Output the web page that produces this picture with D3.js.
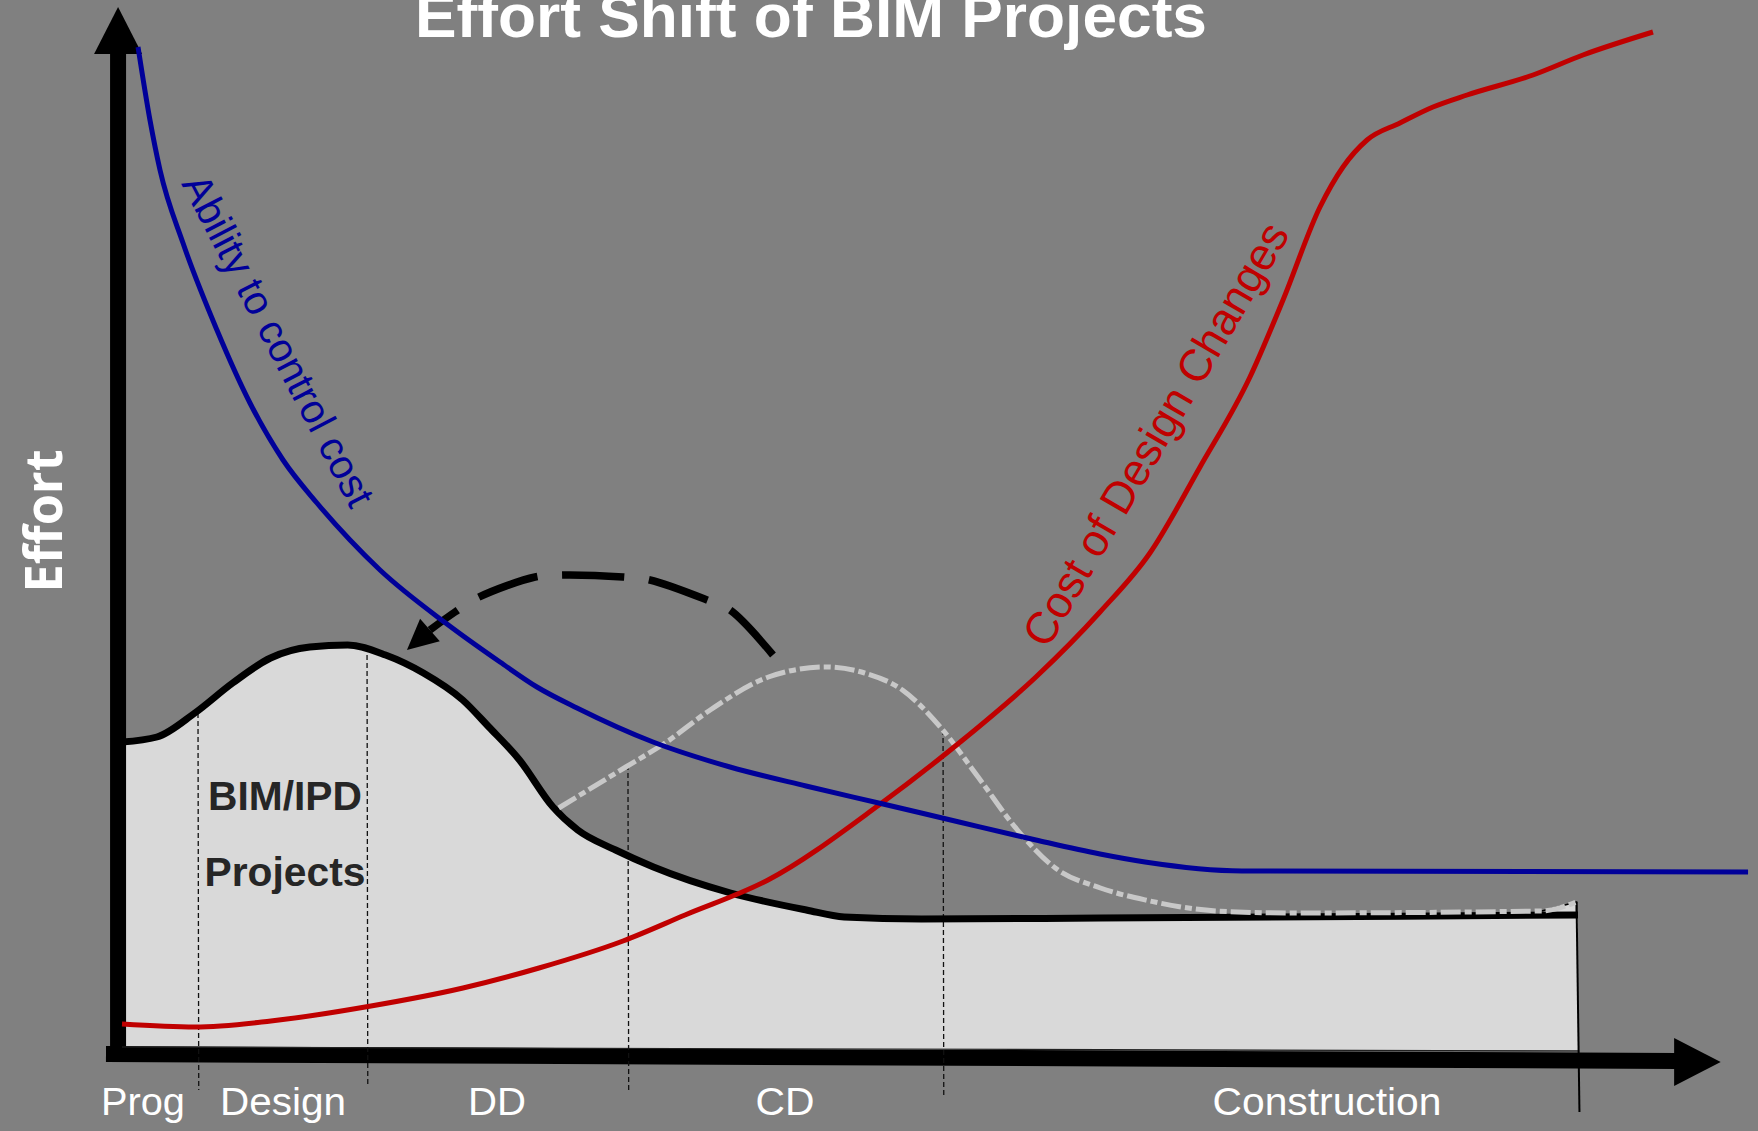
<!DOCTYPE html>
<html><head><meta charset="utf-8">
<script src="https://cdn.jsdelivr.net/npm/d3@7"></script>
<style>html,body{margin:0;padding:0;background:#808080;overflow:hidden}</style>
</head><body>
<svg id="chart" width="1758" height="1131"></svg>
<script>
// ---------- data (x: project time 0-100, y: effort 0-100) ----------
const bimX  = [0, 2.4, 5.0, 7.6, 10.2, 12.9, 15.5, 18.1, 20.7, 23.4, 25.2, 27.3, 29.6, 31.3, 33.9, 36.5, 41.8, 47.0, 49.6, 54.9, 67.2, 100];
const bimY  = [30.8, 31.3, 33.7, 36.7, 39.2, 40.3, 40.5, 39.5, 37.7, 35.0, 32.3, 29.0, 24.3, 22.0, 20.0, 18.3, 15.7, 14.0, 13.3, 13.1, 13.2, 13.5];

const tradX = [30.0, 34.6, 37.3, 40.4, 44.4, 48.3, 51.0, 53.6, 56.2, 58.8, 61.5, 64.1, 67.2, 70.3, 75.2, 80.2, 97.5, 99.9];
const tradY = [24.2, 28.3, 30.7, 34.0, 37.3, 38.3, 37.7, 36.0, 32.3, 27.3, 22.0, 18.2, 16.2, 15.0, 13.9, 13.7, 13.9, 14.8];

const abilX = [1.10, 1.92, 2.61, 4.19, 6.52, 8.79, 11.06, 13.39, 15.66, 17.72, 22.32, 25.96, 28.5, 31.25, 36.47, 41.76, 46.98, 52.27, 57.49, 62.77, 67.17, 70.26, 76.92, 111.68];
const abilY = [100.3, 93.0, 88.0, 80.7, 72.0, 64.7, 59.0, 54.7, 51.0, 48.0, 42.6, 38.8, 36.3, 34.2, 30.8, 28.3, 26.4, 24.6, 22.8, 21.0, 19.6, 18.8, 17.9, 17.8];

const costX = [0, 5.01, 10.23, 17.10, 23.42, 28.64, 34.41, 38.67, 44.37, 51.99, 57.49, 62.77, 67.17, 70.60, 74.04, 77.47, 79.74, 82.28, 83.86, 85.51, 87.77, 90.04, 92.38, 96.91, 100.34, 105.15];
const costY = [2.6, 2.3, 2.9, 4.4, 6.2, 8.2, 10.9, 13.5, 17.0, 24.5, 30.7, 37.3, 43.8, 49.7, 58.3, 67.3, 75.0, 84.3, 88.3, 91.0, 92.7, 94.3, 95.5, 97.5, 99.5, 101.8];

const shiftX = [44.71, 41.76, 40.18, 36.26, 34.41, 30.08, 28.37, 24.38, 22.87, 21.15];
const shiftY = [39.5, 44.0, 45.0, 47.0, 47.3, 47.5, 47.3, 45.2, 43.8, 42.0];
const shiftTip = [19.57, 40.0];

const phaseNames   = ["Prog", "Design", "DD", "CD", "Construction"];
const phaseCenters = [1.44, 11.06, 25.76, 45.54, 82.76];
const dividerX      = [5.22, 16.83, 34.75, 56.39];
const dividerTop    = [33.7, 39.5, 28.5, 32.0];
const dividerBottom = [-4.0, -3.5, -4.2, -4.8];
const endX = 100, endTop = 14.8, endBottom = -6.2;

const titleText = "Effort Shift of BIM Projects";
const yLabel = "Effort";
const bimLabel = ["BIM/IPD", "Projects"];
const abilLabel = "Ability to control cost";
const costLabel = "Cost of Design Changes";

// ---------- scales ----------
const W = 1758, H = 1131;
const x = d3.scaleLinear().domain([0, 100]).range([122, 1578]);
const y = d3.scaleLinear().domain([0, 100]).range([1050, 50]);
const zip = (a, b) => a.map((v, i) => [v, b[i]]);
const smooth = d3.curveMonotoneX;
const line = d3.line().x(d => x(d[0])).y(d => y(d[1])).curve(smooth);
const arc = d3.line().x(d => x(d[0])).y(d => y(d[1])).curve(d3.curveCatmullRom.alpha(0.5));
const straight = d3.line().x(d => x(d[0])).y(d => y(d[1]));

const svg = d3.select("#chart");
svg.append("rect").attr("width", W).attr("height", H).attr("fill", "#808080");

// area under BIM effort
const area = d3.area().x(d => x(d[0])).y0(y(0)).y1(d => y(d[1])).curve(smooth);
svg.append("path").datum(zip(bimX, bimY)).attr("d", area).attr("fill", "#d9d9d9");
const tn = tradX.length;
svg.append("path")
  .datum([[tradX[tn-2], tradY[tn-2]], [tradX[tn-1], tradY[tn-1]], [tradX[tn-1], bimY[bimY.length-1]]])
  .attr("d", straight).attr("fill", "#d9d9d9").attr("stroke", "#000").attr("stroke-width", 1.5);

// ---------- axes ----------
const axisColor = "#000";
const yAxisX = -0.27;
svg.append("path").datum([[yAxisX, -1.2], [yAxisX, 99.8]]).attr("d", straight)
  .attr("stroke", axisColor).attr("stroke-width", 16).attr("fill", "none");
svg.append("polygon")
  .attr("points", [[x(yAxisX), y(104.3)], [x(yAxisX) - 24, y(99.6)], [x(yAxisX) + 24, y(99.6)]].map(p => p.join(",")).join(" "))
  .attr("fill", axisColor);
svg.append("path").datum([[-1.1, -0.4], [106.8, -1.1]]).attr("d", straight)
  .attr("stroke", axisColor).attr("stroke-width", 16).attr("fill", "none");
svg.append("polygon")
  .attr("points", [[x(109.8), y(-1.2)], [x(106.6), y(-1.2) - 24], [x(106.6), y(-1.2) + 24]].map(p => p.join(",")).join(" "))
  .attr("fill", axisColor);

svg.append("path").datum([[0, 0.3], [endX, -0.1]]).attr("d", straight)
  .attr("stroke", "#222").attr("stroke-width", 1.2).attr("fill", "none");
svg.append("path").datum([[endX - 0.1, endTop], [endX + 0.1, endBottom]]).attr("d", straight)
  .attr("stroke", "#000").attr("stroke-width", 2).attr("fill", "none");

// phase dividers
dividerX.forEach((dx, i) => {
  svg.append("path").datum([[dx, dividerTop[i]], [dx + 0.05, dividerBottom[i]]]).attr("d", straight)
    .attr("stroke", "#111").attr("stroke-width", 1.3).attr("stroke-dasharray", "5,3").attr("fill", "none");
});

// ---------- curves ----------
svg.append("path").datum(zip(bimX, bimY)).attr("d", line)
  .attr("fill", "none").attr("stroke", "#000").attr("stroke-width", 7).attr("stroke-linejoin", "round");

svg.append("path").datum(zip(tradX, tradY)).attr("d", line)
  .attr("fill", "none").attr("stroke", "#c8c8c8").attr("stroke-width", 5)
  .attr("stroke-dasharray", "20,4,7,4");

// effort-shift dashed arrow
const shiftPts = zip(shiftX, shiftY);
svg.append("path").datum(shiftPts).attr("d", arc)
  .attr("fill", "none").attr("stroke", "#000").attr("stroke-width", 7.5)
  .attr("stroke-dasharray", "62,25");
{
  const base = shiftPts[shiftPts.length - 1];
  const bx = x(base[0]), by = y(base[1]);
  const tx = x(shiftTip[0]), ty = y(shiftTip[1]);
  const dx = tx - bx, dy = ty - by, len = Math.hypot(dx, dy);
  const px = -dy / len * 15, py = dx / len * 15;
  svg.append("polygon")
    .attr("points", [[tx, ty], [bx + px, by + py], [bx - px, by - py]].map(p => p.join(",")).join(" "))
    .attr("fill", "#000");
}

svg.append("path").datum(zip(costX, costY)).attr("d", line)
  .attr("fill", "none").attr("stroke", "#c00000").attr("stroke-width", 5);

svg.append("path").datum(zip(abilX, abilY)).attr("d", line)
  .attr("fill", "none").attr("stroke", "#000099").attr("stroke-width", 5);

// ---------- text ----------
const font = "'Liberation Sans', Arial, sans-serif";
svg.append("text").text(titleText)
  .attr("x", 811).attr("y", 37).attr("text-anchor", "middle")
  .attr("font-family", font).attr("font-weight", "bold").attr("font-size", 62)
  .attr("fill", "#fff").attr("textLength", 792).attr("lengthAdjust", "spacingAndGlyphs");

svg.append("text").text(yLabel)
  .attr("transform", "translate(62,521) rotate(-90)").attr("text-anchor", "middle")
  .attr("font-family", "'Open Sans', sans-serif").attr("font-weight", "bold").attr("font-size", 52)
  .attr("fill", "#fff").attr("textLength", 143).attr("lengthAdjust", "spacingAndGlyphs");

const labelWidths = [84, 126, 58, 59, 229];
phaseNames.forEach((n, i) => {
  svg.append("text").text(n)
    .attr("x", x(phaseCenters[i])).attr("y", 1115).attr("text-anchor", "middle")
    .attr("font-family", font).attr("font-size", 39).attr("fill", "#fff")
    .attr("textLength", labelWidths[i]).attr("lengthAdjust", "spacingAndGlyphs");
});

svg.append("text").text(bimLabel[0])
  .attr("x", 285).attr("y", 810).attr("text-anchor", "middle")
  .attr("font-family", font).attr("font-weight", "bold").attr("font-size", 40).attr("fill", "#262626")
  .attr("textLength", 154).attr("lengthAdjust", "spacingAndGlyphs");
svg.append("text").text(bimLabel[1])
  .attr("x", 285).attr("y", 886).attr("text-anchor", "middle")
  .attr("font-family", font).attr("font-weight", "bold").attr("font-size", 40).attr("fill", "#262626")
  .attr("textLength", 161).attr("lengthAdjust", "spacingAndGlyphs");

svg.append("text").text(abilLabel)
  .attr("transform", "translate(266,347) rotate(62.5)").attr("text-anchor", "middle")
  .attr("font-family", font).attr("font-size", 41).attr("fill", "#000099")
  .attr("textLength", 368).attr("lengthAdjust", "spacingAndGlyphs");

svg.append("text").text(costLabel)
  .attr("transform", "translate(1169,442) rotate(-59.7)").attr("text-anchor", "middle")
  .attr("font-family", font).attr("font-size", 45).attr("fill", "#c00000")
  .attr("textLength", 482).attr("lengthAdjust", "spacingAndGlyphs");
</script>
</body></html>
